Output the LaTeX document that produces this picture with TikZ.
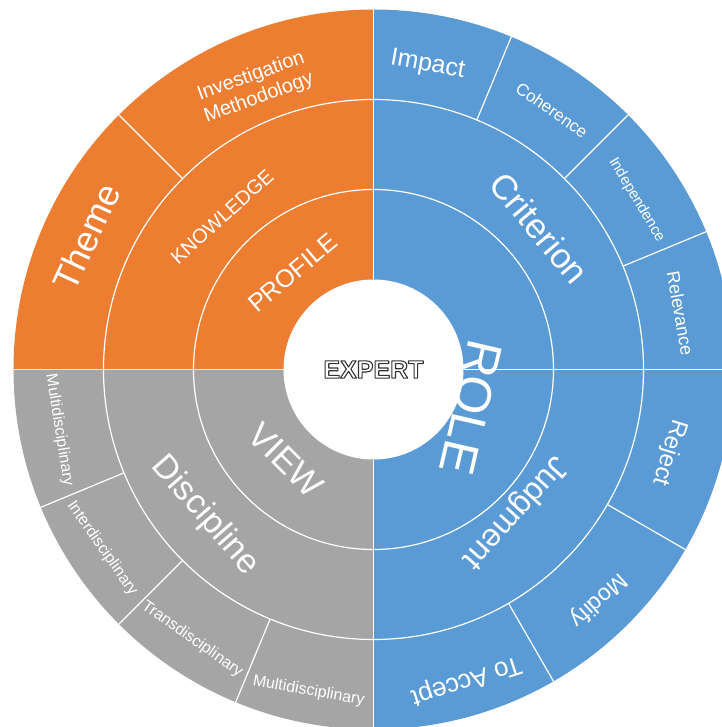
\documentclass[tikz,border=0pt]{standalone}
\usepackage{fontspec}
\setmainfont{Liberation Sans}
\definecolor{roleblue}{HTML}{5B9BD5}
\definecolor{profileorange}{HTML}{ED7D31}
\definecolor{viewgray}{HTML}{A5A5A5}
\definecolor{seamcream}{HTML}{FBE3CF}
\tikzstyle{sep}=[draw=white,line width=1.2pt]
\tikzstyle{lbl}=[text=white,inner sep=0pt,align=center]
\newcommand{\fs}[1]{\fontsize{#1}{1.15\dimexpr#1pt\relax}\selectfont}
% outlined text: white fill, dark stroke
\newcommand{\outlined}[1]{\special{pdf:code 0.2 G 1.1 w 1 j 2 Tr}#1\special{pdf:code 0 Tr}}

\begin{document}
\begin{tikzpicture}
\useasboundingbox (-373.5pt,-357.5pt) rectangle (347.5pt,369.5pt);
% the three quarters
\fill[profileorange] (0,0) -- (90:360pt) arc (90:180:360pt) -- cycle;
\fill[viewgray] (0,0) -- (180:360pt) arc (180:270:360pt) -- cycle;
\fill[roleblue] (0,0) -- (270:360pt) arc (-90:90:360pt) -- cycle;
% rings and seams
\draw[sep] (0,0) circle (180pt) (0,0) circle (270pt);
\foreach \a in {90,0,270} \draw[sep] (\a:90pt) -- (\a:360pt);
\draw[sep,draw=seamcream] (180:90pt) -- (180:360pt);
\foreach \a in {135,67.5,45,22.5,-30,-60,202.5,225,247.5}
  \draw[sep] (\a:270pt) -- (\a:360pt);
\fill[white] (0,0) circle (90pt);
\node[text=white,inner sep=0pt,font=\fs{25}\bfseries] (expert) at (0,0) {\outlined{EXPERT}};
% orange
\node[lbl,rotate=40,font=\fs{25}] (profile) at (130:126pt) {PROFILE};
\node[lbl,rotate=42,font=\fs{20}] (knowledge) at (134.8:215pt) {KNOWLEDGE};
\node[lbl,rotate=65,font=\fs{36}] (theme) at (155.2:316pt) {Theme};
\node[lbl,rotate=20,font=\fs{20}] (method) at (112.8:306pt) {Investigation\\Methodology};
% blue
\node[lbl,rotate=-103,font=\fs{50}] (role) at (-21.2:105pt) {ROLE};
\node[lbl,rotate=-50,font=\fs{35}] (criterion) at (40.4:218pt) {Criterion};
\node[lbl,rotate=-132,font=\fs{32}] (judgment) at (-45.2:201pt) {Judgment};
\node[lbl,rotate=-10,font=\fs{25}] (impact) at (79.9:309pt) {Impact};
\node[lbl,rotate=-35,font=\fs{17}] (coherence) at (55.5:315pt) {Coherence};
\node[lbl,rotate=-59,font=\fs{15}] (independence) at (32.8:313pt) {Independence};
\node[lbl,rotate=-80,font=\fs{18}] (relevance) at (10.4:312pt) {Relevance};
\node[lbl,rotate=-107,font=\fs{24}] (reject) at (-15.7:307pt) {Reject};
\node[lbl,rotate=-138,font=\fs{23}] (modify) at (-45.7:322pt) {Modify};
\node[lbl,rotate=-162,font=\fs{26}] (accept) at (-73.4:324pt) {To Accept};
% gray
\node[lbl,rotate=-45,font=\fs{35}] (view) at (226:126pt) {VIEW};
\node[lbl,rotate=-49,font=\fs{34}] (discipline) at (221:223pt) {Discipline};
\node[lbl,rotate=-81,font=\fs{16}] (multiA) at (190.9:320pt) {Multidisciplinary};
\node[lbl,rotate=-55,font=\fs{16}] (inter) at (213.4:325pt) {Interdisciplinary};
\node[lbl,rotate=-35,font=\fs{16}] (trans) at (236.1:325pt) {Transdisciplinary};
\node[lbl,rotate=-10,font=\fs{16}] (multiB) at (258.6:328pt) {Multidisciplinary};
\end{tikzpicture}
\end{document}
